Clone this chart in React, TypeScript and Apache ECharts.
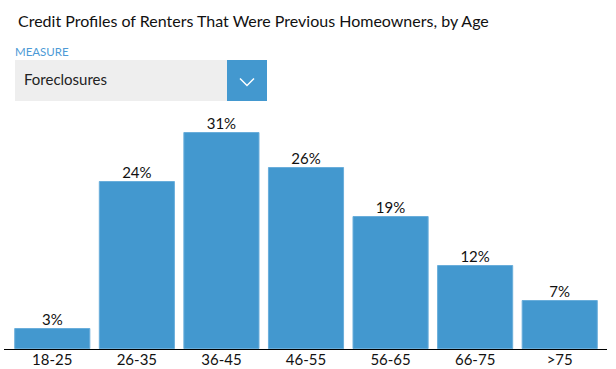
import React, { useEffect, useRef } from "react";
import * as echarts from "echarts";

const categories = ["18-25", "26-35", "36-45", "46-55", "56-65", "66-75", ">75"];
const foreclosures = [3, 24, 31, 26, 19, 12, 7];
const titleText = "Credit Profiles of Renters That Were Previous Homeowners, by Age";
const measureLabel = "MEASURE";
const measureValue = "Foreclosures";

const FONT = "Lato, 'Open Sans', sans-serif";
const BAR = "#4398cf";

export default function App() {
  const ref = useRef<HTMLDivElement>(null);
  useEffect(() => {
    if (!ref.current) return;
    const chart = echarts.init(ref.current, null, { renderer: "svg" });
    chart.setOption({
      animation: false,
      backgroundColor: "#ffffff",
      title: {
        text: titleText,
        left: 13,
        top: 7,
        textStyle: { fontFamily: FONT, fontSize: 16, fontWeight: "normal", color: "#111" },
      },
      grid: { left: 10, right: 14, top: 104, bottom: 20, containLabel: false },
      xAxis: {
        type: "category",
        data: categories,
        axisLine: { show: false },
        axisTick: { show: false },
        axisLabel: { fontFamily: FONT, fontSize: 15, color: "#111", margin: 2 },
      },
      yAxis: {
        type: "value",
        min: 0,
        max: 35,
        show: false,
        splitLine: { show: false },
      },
      series: [
        {
          type: "bar",
          data: foreclosures,
          barCategoryGap: "10%",
          itemStyle: { color: BAR, borderColor: "#6aaedb", borderWidth: 1 },
          label: {
            show: true,
            position: "top",
            distance: 2,
            formatter: "{c}%",
            fontFamily: FONT,
            fontSize: 15,
            color: "#111",
          },
        },
      ],
      graphic: [
        {
          type: "text",
          left: 15,
          top: 45,
          style: { text: measureLabel, fontFamily: FONT, fontSize: 11.5, fill: "#4d9ad6" },
        },
        {
          type: "rect",
          shape: { x: 15, y: 60, width: 212, height: 41 },
          style: { fill: "#eeeeee" },
        },
        {
          type: "rect",
          shape: { x: 227, y: 60, width: 40, height: 41 },
          style: { fill: BAR },
        },
        {
          type: "polyline",
          shape: { points: [[240, 78.5], [247, 85.5], [254, 78.5]] },
          style: { stroke: "#ffffff", lineWidth: 1.5, fill: null },
        },
        {
          type: "text",
          left: 24,
          top: 71,
          style: { text: measureValue, fontFamily: FONT, fontSize: 15, fill: "#222" },
        },
        {
          type: "line",
          shape: { x1: 4, y1: 349.5, x2: 607, y2: 349.5 },
          style: { stroke: "#000", lineWidth: 1 },
          z: 10,
        },
      ],
    });
    return () => chart.dispose();
  }, []);
  return (
    <div
      ref={ref}
      style={{ position: "fixed", left: 0, top: 0, width: 616, height: 369 }}
    />
  );
}
